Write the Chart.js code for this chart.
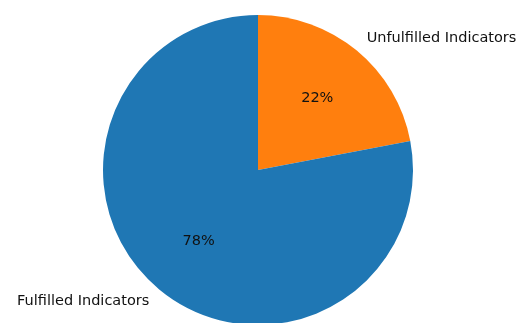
<!DOCTYPE html>
<html>
<head>
<meta charset="utf-8">
<script src="https://cdn.jsdelivr.net/npm/chart.js@4.4.0/dist/chart.umd.min.js"></script>
<style>
  html, body { margin: 0; padding: 0; background: #fff; overflow: hidden; }
  #wrap { position: relative; width: 517px; height: 330px; }
</style>
</head>
<body>
<div id="wrap"><canvas id="pie"></canvas></div>
<script>
// Pie: share of indicators fulfilled vs unfulfilled (matplotlib-style look).
// Drawn clockwise from 12 o'clock, so the small slice comes first.
const sliceLabels = ['Unfulfilled Indicators', 'Fulfilled Indicators'];
const sliceValues = [22, 78];
const sliceColors = ['#ff7f0e', '#1f77b4'];

const FONT = '14.5px "DejaVu Sans", sans-serif';

// matplotlib puts labels at 1.1 r and the autopct text at 0.6 r
const pieText = {
  id: 'pieText',
  afterDatasetsDraw(chart) {
    const { ctx } = chart;
    const arcs = chart.getDatasetMeta(0).data;
    const total = sliceValues.reduce((a, b) => a + b, 0);
    ctx.save();
    ctx.font = FONT;
    ctx.fillStyle = '#111';
    ctx.textBaseline = 'middle';
    arcs.forEach((arc, i) => {
      const mid = (arc.startAngle + arc.endAngle) / 2;
      const r = arc.outerRadius;
      const c = Math.cos(mid), s = Math.sin(mid);
      ctx.textAlign = c >= 0 ? 'left' : 'right';
      ctx.fillText(sliceLabels[i], arc.x + 1.1 * r * c, arc.y + 1.1 * r * s);
      ctx.textAlign = 'center';
      const pct = (sliceValues[i] / total * 100).toFixed(0) + '%';
      ctx.fillText(pct, arc.x + 0.6 * r * c, arc.y + 0.6 * r * s);
    });
    ctx.restore();
  },
};

new Chart(document.getElementById('pie').getContext('2d'), {
  type: 'pie',
  data: {
    labels: sliceLabels,
    datasets: [{
      data: sliceValues,
      backgroundColor: sliceColors,
      borderWidth: 0,
    }],
  },
  options: {
    responsive: true,
    maintainAspectRatio: false,
    animation: false,
    layout: { padding: { top: 15, bottom: 5, left: 103, right: 104 } },
    plugins: {
      legend: { display: false },
      tooltip: { enabled: false },
    },
  },
  plugins: [pieText],
});
</script>
</body>
</html>
